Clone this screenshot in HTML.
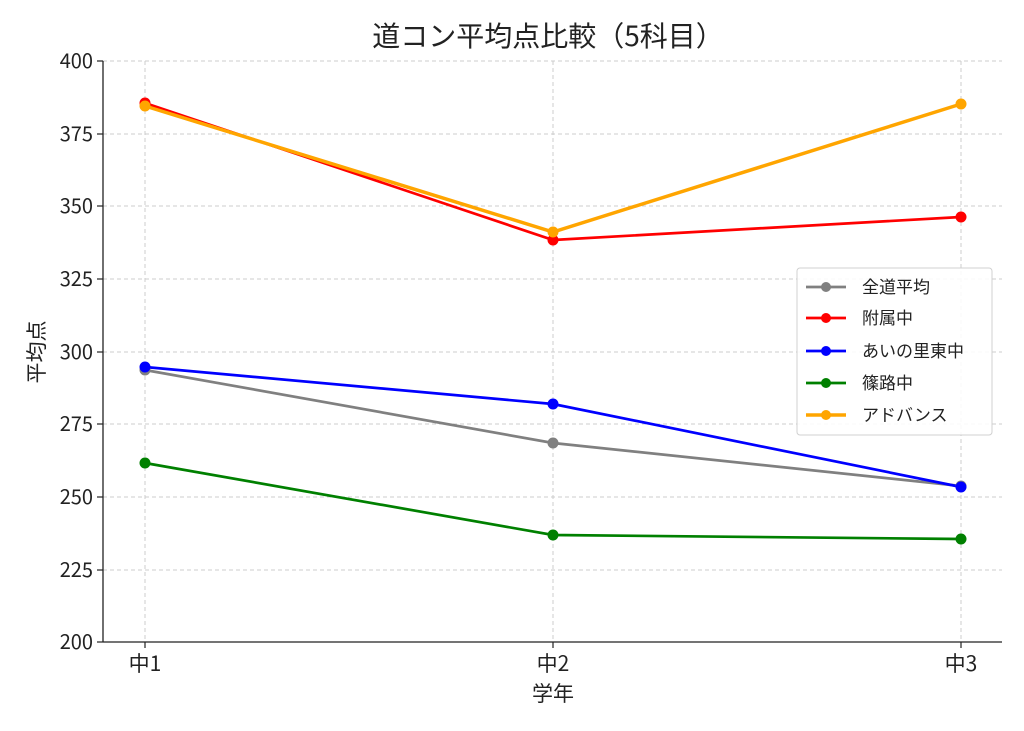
<!DOCTYPE html>
<html><head><meta charset="utf-8"><style>
body{margin:0;background:#fff}
svg{display:block;font-family:"Noto Sans CJK JP","Liberation Sans",sans-serif}
</style></head><body>
<svg width="1024" height="731" viewBox="0 0 1024 731" xmlns="http://www.w3.org/2000/svg">
<rect width="1024" height="731" fill="#fff"/>
<g stroke="#cccccc" stroke-dasharray="4,3" stroke-width="1">
<line x1="103" x2="1002" y1="61" y2="61"/><line x1="103" x2="1002" y1="134" y2="134"/>
<line x1="103" x2="1002" y1="206" y2="206"/><line x1="103" x2="1002" y1="279" y2="279"/>
<line x1="103" x2="1002" y1="352" y2="352"/><line x1="103" x2="1002" y1="424" y2="424"/>
<line x1="103" x2="1002" y1="497" y2="497"/><line x1="103" x2="1002" y1="570" y2="570"/>
<line x1="145" x2="145" y1="61" y2="642"/><line x1="553" x2="553" y1="61" y2="642"/><line x1="961" x2="961" y1="61" y2="642"/>
</g>
<g stroke="#222" stroke-width="1.3" fill="none">
<line x1="103" y1="61" x2="103" y2="642"/><line x1="103" y1="642" x2="1002" y2="642"/>
</g>
<g stroke="#222" stroke-width="1.2">
<line x1="97" x2="103" y1="61" y2="61"/><line x1="97" x2="103" y1="134" y2="134"/><line x1="97" x2="103" y1="206" y2="206"/><line x1="97" x2="103" y1="279" y2="279"/><line x1="97" x2="103" y1="352" y2="352"/><line x1="97" x2="103" y1="424" y2="424"/><line x1="97" x2="103" y1="497" y2="497"/><line x1="97" x2="103" y1="570" y2="570"/><line x1="97" x2="103" y1="642" y2="642"/>
<line x1="145" x2="145" y1="642" y2="648"/><line x1="553" x2="553" y1="642" y2="648"/><line x1="961" x2="961" y1="642" y2="648"/>
</g>
<g font-size="20" fill="#222" text-anchor="end">
<text x="93" y="68">400</text><text x="93" y="141">375</text><text x="93" y="213">350</text><text x="93" y="286">325</text><text x="93" y="359">300</text><text x="93" y="431">275</text><text x="93" y="504">250</text><text x="93" y="577">225</text><text x="93" y="649">200</text>
</g>
<g font-size="21" fill="#222" text-anchor="middle">
<text x="145" y="671">中1</text><text x="553" y="671">中2</text><text x="961" y="671">中3</text>
<text x="553" y="701">学年</text>
<text x="548" y="46" font-size="28">道コン平均点比較（5科目）</text>
<text transform="translate(44,352) rotate(-90)">平均点</text>
</g>
<g stroke-width="2.7" fill="none">
<polyline stroke="#808080" points="145,370 553,443 961,486"/>
<polyline stroke="#ff0000" points="145,103 553,240 961,217"/>
<polyline stroke="#0000ff" points="145,367 553,404 961,487"/>
<polyline stroke="#008000" points="145,463 553,535 961,539"/>
<polyline stroke="#ffa500" stroke-width="3.5" points="145,106 553,232 961,104"/>
</g>
<g>
<g fill="#808080"><circle cx="145" cy="370" r="5.5"/><circle cx="553" cy="443" r="5.5"/><circle cx="961" cy="486" r="5.5"/></g>
<g fill="#ff0000"><circle cx="145" cy="103" r="5.5"/><circle cx="553" cy="240" r="5.5"/><circle cx="961" cy="217" r="5.5"/></g>
<g fill="#0000ff"><circle cx="145" cy="367" r="5.5"/><circle cx="553" cy="404" r="5.5"/><circle cx="961" cy="487" r="5.5"/></g>
<g fill="#008000"><circle cx="145" cy="463" r="5.5"/><circle cx="553" cy="535" r="5.5"/><circle cx="961" cy="539" r="5.5"/></g>
<g fill="#ffa500"><circle cx="145" cy="106" r="5.5"/><circle cx="553" cy="232" r="5.5"/><circle cx="961" cy="104" r="5.5"/></g>
</g>
<rect x="797" y="268" width="195" height="167" rx="3" fill="#fff" fill-opacity="0.9" stroke="#d0d0d0"/>
<g stroke-width="2.7">
<line x1="806" x2="846" y1="287" y2="287" stroke="#808080"/><circle cx="826" cy="287" r="5" fill="#808080"/>
<line x1="806" x2="846" y1="318" y2="318" stroke="#ff0000"/><circle cx="826" cy="318" r="5" fill="#ff0000"/>
<line x1="806" x2="846" y1="351" y2="351" stroke="#0000ff"/><circle cx="826" cy="351" r="5" fill="#0000ff"/>
<line x1="806" x2="846" y1="383" y2="383" stroke="#008000"/><circle cx="826" cy="383" r="5" fill="#008000"/>
<line x1="806" x2="846" y1="415" y2="415" stroke="#ffa500" stroke-width="3.5"/><circle cx="826" cy="415" r="5" fill="#ffa500"/>
</g>
<g font-size="17" fill="#222">
<text x="862" y="293">全道平均</text><text x="862" y="324">附属中</text><text x="862" y="357">あいの里東中</text><text x="862" y="389">篠路中</text><text x="862" y="421">アドバンス</text>
</g>
</svg>
</body></html>
